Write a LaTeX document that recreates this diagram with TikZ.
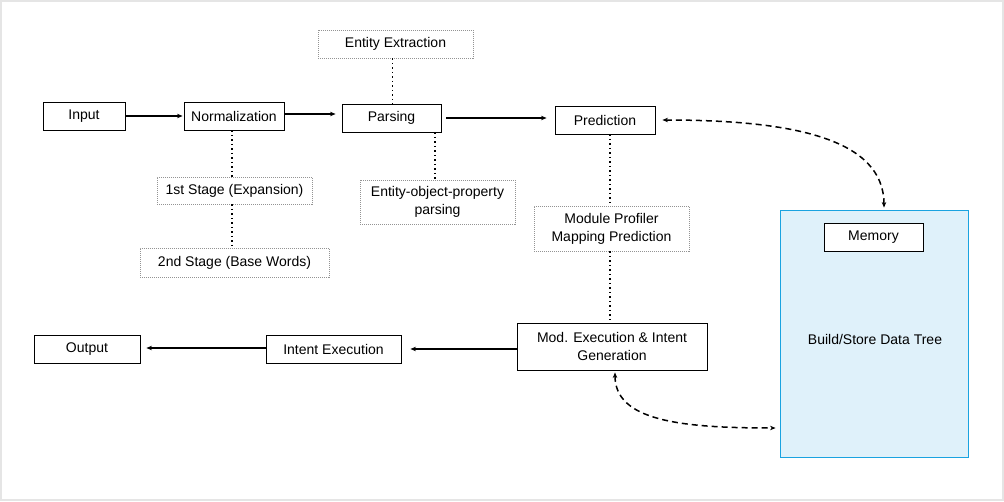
\documentclass[tikz,border=0pt]{standalone}
\usepackage{fontspec}
\setmainfont{Liberation Sans}
\usetikzlibrary{arrows.meta}
\definecolor{treefill}{HTML}{DFF1FA}
\definecolor{treeline}{HTML}{1AA3E0}
\begin{document}
\begin{tikzpicture}[x=1pt,y=-1pt,
  txt/.style={font=\fontsize{14}{18}\selectfont, align=center},
  box/.style={txt, draw=black, line width=0.9pt, fill=white, minimum height=28pt, inner sep=0pt},
  dbox/.style={txt, draw=gray!85, dash pattern=on 1pt off 1pt, line width=0.6pt, fill=white, minimum height=28pt, inner sep=0pt},
  treebox/.style={draw=treeline, fill=treefill, line width=0.9pt, inner sep=0pt},
  arr/.style={-{Stealth[length=5.5pt,width=4.5pt]}, line width=1.4pt},
  dotl/.style={line width=1.5pt, dash pattern=on 1.5pt off 3pt},
  darr/.style={{Stealth[length=5.5pt,width=4.5pt]}-{Stealth[length=5.5pt,width=4.5pt]}, line width=1.5pt, dash pattern=on 6pt off 4pt}
]
\useasboundingbox (0,0) rectangle (1004,501);
\draw[gray!20, line width=2pt] (1,1) rectangle (1003,500);

\node[treebox, minimum width=188pt, minimum height=247pt] (tree) at (874,333.5) {};
\node[box, minimum width=99pt] (mem) at (873.5,237) {Memory};
\node[txt] (bs) at (875,339) {Build/Store Data Tree};

\node[box, minimum width=82pt] (input) at (84,116) {Input};
\node[box, minimum width=100pt] (norm) at (234,116) {Normalization};
\node[box, minimum width=99pt] (pars) at (391.5,118) {Parsing};
\node[box, minimum width=100pt] (pred) at (605,120) {Prediction};
\node[dbox, minimum width=155pt] (ent) at (395.5,44) {Entity Extraction};
\node[dbox, minimum width=155pt, minimum height=27pt] (st1) at (234.5,190.5) {1st Stage (Expansion)};
\node[dbox, minimum width=189pt, minimum height=29pt] (st2) at (234.5,262.5) {2nd Stage (Base Words)};
\node[dbox, minimum width=155pt, minimum height=44pt] (eop) at (437.5,202) {Entity-object-property\\parsing};
\node[dbox, minimum width=155pt, minimum height=45pt] (mod) at (611.5,228.5) {Module Profiler\\Mapping Prediction};
\node[box, minimum width=190pt, minimum height=47pt] (mex) at (612,346.5) {Mod. Execution \& Intent\\Generation};
\node[box, minimum width=135pt] (iex) at (333.5,349) {Intent Execution};
\node[box, minimum width=106pt] (out) at (87,349) {Output};

% solid arrows
\draw[arr, shorten >=1pt] (input.east) -- (norm.west);
\draw[arr, shorten >=6pt] ([yshift=2pt]norm.east) -- ([yshift=4pt]pars.west);
\draw[arr, shorten <=5pt, shorten >=8pt] (pars.east) -- ([yshift=2pt]pred.west);
\draw[arr, shorten >=9pt] (mex.west |- iex.east) -- (iex.east);
\draw[arr, shorten >=6pt] ([yshift=1pt]iex.west) -- ([yshift=1pt]out.east);

% dotted connectors
\draw[dotl] ([xshift=-2pt]norm.south) -- ([xshift=-2pt]norm.south |- st1.north);
\draw[dotl] ([xshift=-2.5pt]st1.south) -- ([xshift=-2.5pt]st1.south |- st2.north);
\draw[dotl] ([xshift=-3pt]ent.south) -- ([xshift=-3pt]ent.south |- pars.north);
\draw[dotl] ([xshift=-2.5pt]eop.north |- pars.south) -- ([xshift=-2.5pt]eop.north);
\draw[dotl] ([xshift=-1.5pt]mod.north |- pred.south) -- ([xshift=-1.5pt]mod.north);
\draw[dotl] ([xshift=-1.5pt]mod.south) -- ([xshift=-1.5pt]mod.south |- mex.north);

% dashed curved connectors
\draw[darr, shorten <=7pt, shorten >=2pt] (pred.east) .. controls +(140,0) and +(0,-70) .. ([xshift=10pt]tree.north);
\draw[darr, shorten <=2pt, shorten >=4pt] ([xshift=3pt]mex.south) .. controls +(0,50) and +(-100,0) .. ([yshift=-94.5pt]tree.west);
\end{tikzpicture}
\end{document}
